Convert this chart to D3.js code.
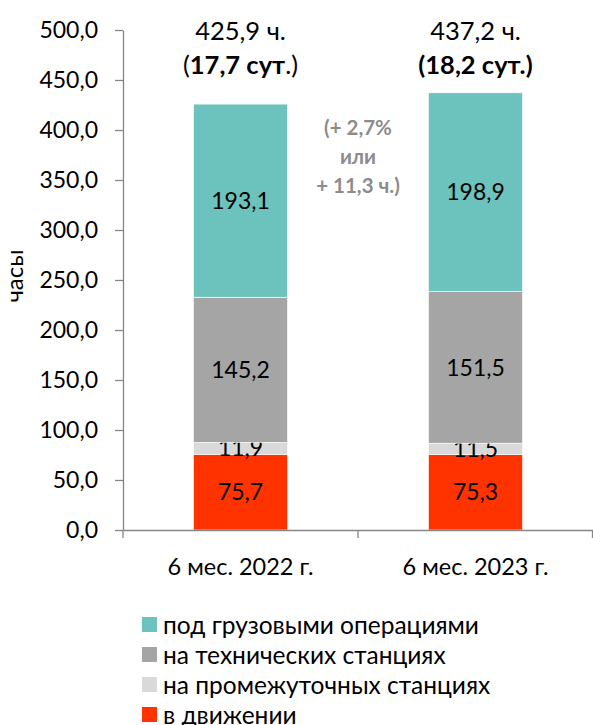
<!DOCTYPE html>
<html>
<head>
<meta charset="utf-8">
<script src="https://cdn.jsdelivr.net/npm/d3@7"></script>
<style>
  body { margin: 0; background: #fff; }
  text { font-family: Lato, "Open Sans", sans-serif; fill: #000; }
</style>
</head>
<body>
<svg id="chart" width="593" height="725"></svg>
<script>
// data
const categories = ["6 мес. 2022 г.", "6 мес. 2023 г."];
const seriesNames = ["в движении", "на промежуточных станциях", "на технических станциях", "под грузовыми операциями"];
const seriesColors = ["#FF3300", "#D9D9D9", "#A5A5A5", "#6CC3BE"];
const moving = [75.7, 75.3];
const intermediate = [11.9, 11.5];
const technical = [145.2, 151.5];
const cargo = [193.1, 198.9];
const totals = ["425,9 ч.", "437,2 ч."];
const days = ["17,7 сут", "18,2 сут"];
const yTicks = [0, 50, 100, 150, 200, 250, 300, 350, 400, 450, 500];
const changeNote = ["(+ 2,7%", "или", "+ 11,3 ч.)"];

const svg = d3.select("#chart");
const margin = {left: 123, right: 0, top: 30, bottom: 195};
const W = 593, H = 725;

const rows = categories.map((c, i) => ({
  cat: c,
  s0: moving[i], s1: intermediate[i], s2: technical[i], s3: cargo[i]
}));
const keys = ["s0", "s1", "s2", "s3"];
const stacked = d3.stack().keys(keys)(rows);

const x = d3.scaleBand()
  .domain(categories)
  .range([margin.left, W - margin.right])
  .padding(0);

const y = d3.scaleLinear()
  .domain([0, 500])
  .range([H - margin.bottom, margin.top]);

const barW = x.bandwidth() * 0.4;
const fmt = v => d3.format(".1f")(v).replace(".", ",");

// bars
stacked.forEach((layer, li) => {
  svg.append("g").selectAll("rect")
    .data(layer)
    .join("rect")
    .attr("x", d => x(d.data.cat) + (x.bandwidth() - barW) / 2)
    .attr("y", d => y(d[1]))
    .attr("width", barW)
    .attr("height", d => y(d[0]) - y(d[1]))
    .attr("fill", seriesColors[li])
    .attr("stroke", "#fff")
    .attr("stroke-width", 0.6);

  svg.append("g").selectAll("text")
    .data(layer)
    .join("text")
    .attr("x", d => x(d.data.cat) + x.bandwidth() / 2)
    .attr("y", d => (y(d[0]) + y(d[1])) / 2)
    .attr("dy", "0.35em")
    .attr("text-anchor", "middle")
    .style("font-size", "23px")
    .text(d => fmt(d[1] - d[0]));
});

// y axis
const yAxis = svg.append("g")
  .attr("transform", `translate(${margin.left},0)`)
  .call(d3.axisLeft(y).tickValues(yTicks).tickSize(8).tickSizeOuter(0).tickPadding(17).tickFormat(fmt));
yAxis.selectAll("text").style("font-size", "23px");

// x axis
const xAxis = svg.append("g")
  .attr("transform", `translate(0,${y(0)})`)
  .call(d3.axisBottom(x).tickSize(0).tickSizeOuter(0).tickPadding(28));
xAxis.selectAll("text").style("font-size", "23.5px");
xAxis.selectAll(".tick line").remove();
// category boundary ticks
const bounds = [x.range()[0], x.range()[0] + x.bandwidth(), x.range()[1] - 0.5];
svg.append("g").selectAll("line")
  .data(bounds)
  .join("line")
  .attr("x1", d => d).attr("x2", d => d)
  .attr("y1", y(0)).attr("y2", y(0) + 8)
  .attr("stroke", "#868686");

svg.selectAll(".domain, .tick line").attr("stroke", "#868686").attr("stroke-width", 1.3);
svg.selectAll("line").attr("stroke-width", 1.3);

// y title
svg.append("text")
  .attr("transform", `translate(23,${y(250) - 4}) rotate(-90)`)
  .attr("text-anchor", "middle")
  .style("font-size", "24px")
  .text("часы");

// totals above bars
categories.forEach((c, i) => {
  const cx = x(c) + x.bandwidth() / 2;
  svg.append("text")
    .attr("x", cx).attr("y", 40)
    .attr("text-anchor", "middle")
    .style("font-size", "25.5px")
    .text(totals[i]);
  const t = svg.append("text")
    .attr("x", cx).attr("y", 74)
    .attr("text-anchor", "middle")
    .style("font-size", "25.5px");
  if (i === 0) {
    t.append("tspan").text("(");
    t.append("tspan").style("font-weight", "bold").text(days[i]);
    t.append("tspan").text(".)");
  } else {
    t.append("tspan").style("font-weight", "bold").text("(" + days[i] + ".)");
  }
});

// change note
svg.append("g").selectAll("text")
  .data(changeNote)
  .join("text")
  .attr("x", x.range()[0] + x.bandwidth())
  .attr("y", (d, i) => 135 + i * 29)
  .attr("text-anchor", "middle")
  .style("font-size", "20.5px")
  .style("font-weight", "bold")
  .style("fill", "#8C8C8C")
  .text(d => d);

// legend
const legendOrder = [3, 2, 1, 0];
const lg = svg.append("g").attr("transform", "translate(142,615)");
legendOrder.forEach((si, k) => {
  lg.append("rect")
    .attr("x", 0).attr("y", k * 30 + 2)
    .attr("width", 15).attr("height", 15)
    .attr("fill", seriesColors[si]);
  lg.append("text")
    .attr("x", 21).attr("y", k * 30 + 10)
    .attr("dy", "0.35em")
    .style("font-size", "24.5px")
    .text(seriesNames[si]);
});
</script>
</body>
</html>
